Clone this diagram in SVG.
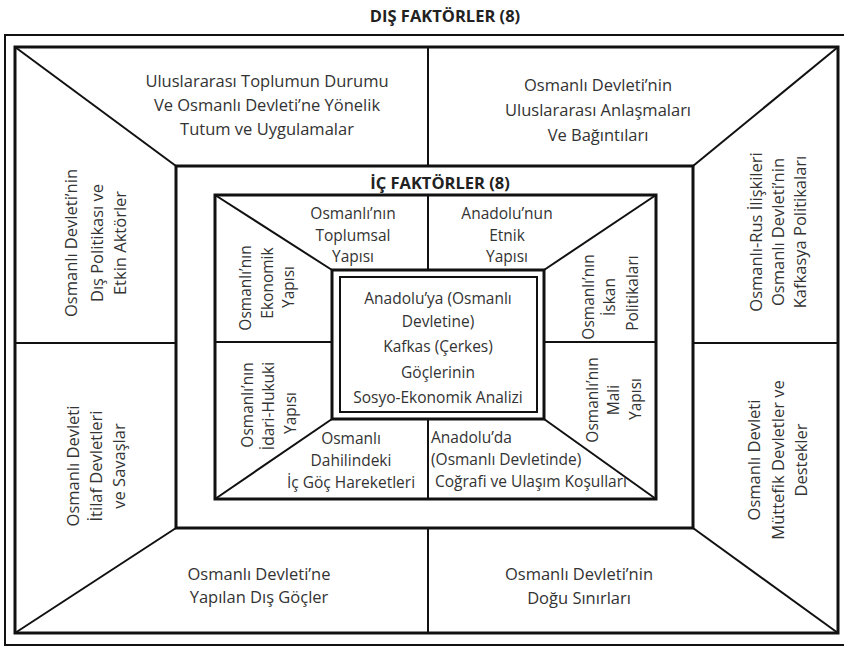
<svg xmlns="http://www.w3.org/2000/svg" width="844" height="648" viewBox="0 0 844 648">
<style>
.bg{fill:#ffffff}
.frame{fill:none;stroke:#111;stroke-width:3}
.thin{fill:none;stroke:#111;stroke-width:2}
.conn{stroke:#111;stroke-width:2;fill:none}
.t{font-family:"Open Sans","Liberation Sans",sans-serif;font-size:16.5px;fill:#333;text-anchor:middle;dominant-baseline:central}
.s{font-family:"Open Sans","Liberation Sans",sans-serif;font-size:15.5px;fill:#333;text-anchor:middle;dominant-baseline:central}
.l{text-anchor:start}
.h{font-family:"Open Sans","Liberation Sans",sans-serif;font-size:16.5px;font-weight:bold;fill:#222;text-anchor:middle;dominant-baseline:central}
</style>
<rect class="bg" x="0" y="0" width="844" height="648"/>
<text class="h" x="445" y="15">DIŞ FAKTÖRLER (8)</text>
<g id="frames">
<rect class="thin" x="5" y="35" width="844" height="610"/>
<rect class="frame" x="15" y="47" width="823" height="586"/>
<rect class="frame" x="176" y="166" width="517" height="362"/>
<rect class="frame" x="215" y="195" width="441" height="304"/>
</g>
<g id="connectors">
<line class="conn" x1="15" y1="47" x2="176" y2="166"/>
<line class="conn" x1="838" y1="47" x2="693" y2="166"/>
<line class="conn" x1="15" y1="633" x2="176" y2="528"/>
<line class="conn" x1="838" y1="633" x2="693" y2="528"/>
<line class="conn" x1="428" y1="47" x2="428" y2="166"/>
<line class="conn" x1="428" y1="528" x2="428" y2="633"/>
<line class="conn" x1="15" y1="343" x2="176" y2="343"/>
<line class="conn" x1="693" y1="343" x2="838" y2="343"/>
<line class="conn" x1="215" y1="195" x2="332" y2="270"/>
<line class="conn" x1="656" y1="195" x2="544" y2="270"/>
<line class="conn" x1="215" y1="499" x2="332" y2="419"/>
<line class="conn" x1="656" y1="499" x2="544" y2="419"/>
<line class="conn" x1="428" y1="195" x2="428" y2="270"/>
<line class="conn" x1="428" y1="419" x2="428" y2="499"/>
<line class="conn" x1="215" y1="342" x2="332" y2="342"/>
<line class="conn" x1="544" y1="342" x2="656" y2="342"/>
</g>
<g id="n-top-left">
<text class="t" x="267" y="80">Uluslararası Toplumun Durumu</text>
<text class="t" x="267" y="104">Ve Osmanlı Devleti’ne Yönelik</text>
<text class="t" x="267" y="128">Tutum ve Uygulamalar</text>
</g>
<g id="n-top-right">
<text class="t" x="598" y="84">Osmanlı Devleti’nin</text>
<text class="t" x="598" y="109">Uluslararası Anlaşmaları</text>
<text class="t" x="598" y="134">Ve Bağıntıları</text>
</g>
<g id="n-left-upper">
<text class="t" transform="translate(70,243) rotate(-90)">Osmanlı Devleti’nin</text>
<text class="t" transform="translate(96,243) rotate(-90)">Dış Politikası ve</text>
<text class="t" transform="translate(119,243) rotate(-90)">Etkin Aktörler</text>
</g>
<g id="n-right-upper">
<text class="t" transform="translate(755,232) rotate(-90)">Osmanlı-Rus İlişkileri</text>
<text class="t" transform="translate(777,232) rotate(-90)">Osmanlı Devleti’nin</text>
<text class="t" transform="translate(799,232) rotate(-90)">Kafkasya Politikaları</text>
</g>
<g id="n-left-lower">
<text class="t" transform="translate(72,466) rotate(-90)">Osmanlı Devleti</text>
<text class="t" transform="translate(95,466) rotate(-90)">İtilaf Devletleri</text>
<text class="t" transform="translate(118,466) rotate(-90)">ve Savaşlar</text>
</g>
<g id="n-right-lower">
<text class="t" transform="translate(753,460) rotate(-90)">Osmanlı Devleti</text>
<text class="t" transform="translate(777,460) rotate(-90)">Müttefik Devletler ve</text>
<text class="t" transform="translate(800,460) rotate(-90)">Destekler</text>
</g>
<g id="n-bottom-left">
<text class="t" x="259" y="573">Osmanlı Devleti’ne</text>
<text class="t" x="259" y="596">Yapılan Dış Göçler</text>
</g>
<g id="n-bottom-right">
<text class="t" x="579" y="573">Osmanlı Devleti’nin</text>
<text class="t" x="579" y="597">Doğu Sınırları</text>
</g>
<text class="h" x="440" y="182">İÇ FAKTÖRLER (8)</text>
<g id="i-top-left">
<text class="s" x="353" y="213">Osmanlı’nın</text>
<text class="s" x="353" y="235">Toplumsal</text>
<text class="s" x="353" y="256">Yapısı</text>
</g>
<g id="i-top-right">
<text class="s" x="507" y="213">Anadolu’nun</text>
<text class="s" x="507" y="235">Etnik</text>
<text class="s" x="507" y="256">Yapısı</text>
</g>
<g id="i-left-upper">
<text class="s" transform="translate(245,288) rotate(-90)">Osmanlı’nın</text>
<text class="s" transform="translate(267,283) rotate(-90)">Ekonomik</text>
<text class="s" transform="translate(288,287) rotate(-90)">Yapısı</text>
</g>
<g id="i-right-upper">
<text class="s" transform="translate(588,297) rotate(-90)">Osmanlı’nın</text>
<text class="s" transform="translate(609,297) rotate(-90)">İskan</text>
<text class="s" transform="translate(632,293) rotate(-90)">Politikaları</text>
</g>
<g id="i-left-lower">
<text class="s" transform="translate(247,405) rotate(-90)">Osmanlı’nın</text>
<text class="s" transform="translate(268,406) rotate(-90)">İdari-Hukuki</text>
<text class="s" transform="translate(290,413) rotate(-90)">Yapısı</text>
</g>
<g id="i-right-lower">
<text class="s" transform="translate(592,400) rotate(-90)">Osmanlı’nın</text>
<text class="s" transform="translate(613,400) rotate(-90)">Mali</text>
<text class="s" transform="translate(635,399) rotate(-90)">Yapısı</text>
</g>
<g id="i-bottom-left">
<text class="s" x="351" y="438">Osmanlı</text>
<text class="s" x="351" y="460">Dahilindeki</text>
<text class="s" x="351" y="482">İç Göç Hareketleri</text>
</g>
<g id="i-bottom-right">
<text class="s l" x="431" y="437">Anadolu’da</text>
<text class="s l" x="431" y="459">(Osmanlı Devletinde)</text>
<text class="s l" x="435" y="481">Coğrafi ve Ulaşım Koşulları</text>
</g>
<g id="center">
<rect class="frame" x="332" y="270" width="212" height="149"/>
<rect class="thin" x="340" y="277" width="197" height="135"/>
<text class="s" x="438" y="298">Anadolu’ya (Osmanlı</text>
<text class="s" x="438" y="321">Devletine)</text>
<text class="s" x="438" y="346">Kafkas (Çerkes)</text>
<text class="s" x="438" y="372">Göçlerinin</text>
<text class="s" x="438" y="397">Sosyo-Ekonomik Analizi</text>
</g>
</svg>
